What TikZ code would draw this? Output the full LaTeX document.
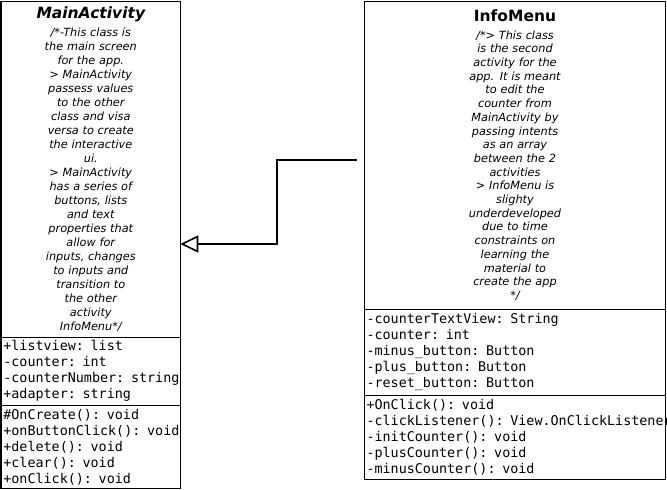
\documentclass[tikz,border=0pt]{standalone}
\usepackage{fontspec}
\setmainfont{DejaVu Sans}
\setmonofont{DejaVu Sans Mono}
\usetikzlibrary{arrows.meta,positioning}
\newcommand{\umlnote}[1]{\fontsize{11.3}{#1}\selectfont\itshape}
\newcommand{\umltitle}{\fontsize{15.5}{18}\selectfont\bfseries}
\newcommand{\umlrow}[1]{\mbox{#1}}

\begin{document}
\begin{tikzpicture}[
  x=1pt,y=-1pt,
  every node/.style={outer sep=0pt},
  headbox/.style={draw,line width=1.6pt,align=center,inner sep=0pt},
  membox/.style={draw,line width=1.6pt,align=left,inner xsep=2pt,inner ysep=0pt,
    font=\ttfamily\fontsize{13.4}{16}\selectfont},
  inherit/.style={-{Triangle[open,length=18pt,width=17pt]},line width=1.6pt}
]
  \useasboundingbox (0,0) rectangle (667,490);

  % MainActivity class
  \node[headbox,font=\umlnote{14},anchor=north west,text width=179pt,minimum height=336pt] (mainhead) at (1.3,1.3)
    {{\umltitle\itshape MainActivity}\\[3.5pt]
     /*-This class is\\the main screen\\for the app.\\> MainActivity\\passess values\\
     to the other\\class and visa\\versa to create\\the interactive\\ui.\\
     > MainActivity\\has a series of\\buttons, lists\\and text\\properties that\\
     allow for\\inputs, changes\\to inputs and\\transition to\\the other\\activity\\InfoMenu*/};
  \node[membox,below=0pt of mainhead,text width=175pt,minimum height=68pt] (mainattr)
    {+listview: list\\-counter: int\\\umlrow{-counterNumber: string}\\+adapter: string};
  \node[membox,below=0pt of mainattr,text width=175pt,minimum height=83pt] (mainops)
    {\#OnCreate(): void\\\umlrow{+onButtonClick(): void}\\+delete(): void\\+clear(): void\\+onClick(): void};

  % InfoMenu class
  \node[headbox,font=\umlnote{13.7},anchor=north west,text width=301pt,minimum height=308pt] (infohead) at (364.5,1.3)
    {{\umltitle\upshape InfoMenu}\\[3.5pt]
     /*> This class\\is the second\\activity for the\\app. It is meant\\to edit the\\
     counter from\\MainActivity by\\passing intents\\as an array\\between the 2\\activities\\
     > InfoMenu is\\slighty\\underdeveloped\\due to time\\constraints on\\learning the\\
     material to\\create the app\\{}*/};
  \node[membox,below=0pt of infohead,text width=297pt,minimum height=86pt] (infoattr)
    {-counterTextView: String\\-counter: int\\-minus\_button: Button\\-plus\_button: Button\\-reset\_button: Button};
  \node[membox,below=0pt of infoattr,text width=297pt,minimum height=84pt] (infoops)
    {+OnClick(): void\\\umlrow{-clickListener(): View.OnClickListener}\\-initCounter(): void\\-plusCounter(): void\\-minusCounter(): void};

  % generalisation
  \coordinate (infotail) at (357,160);
  \coordinate (elbow) at (277,200);
  \coordinate (arrowlevel) at (0,244);
  \draw[inherit] (infotail) -| (elbow) |- (mainhead.east |- arrowlevel);
\end{tikzpicture}
\end{document}
